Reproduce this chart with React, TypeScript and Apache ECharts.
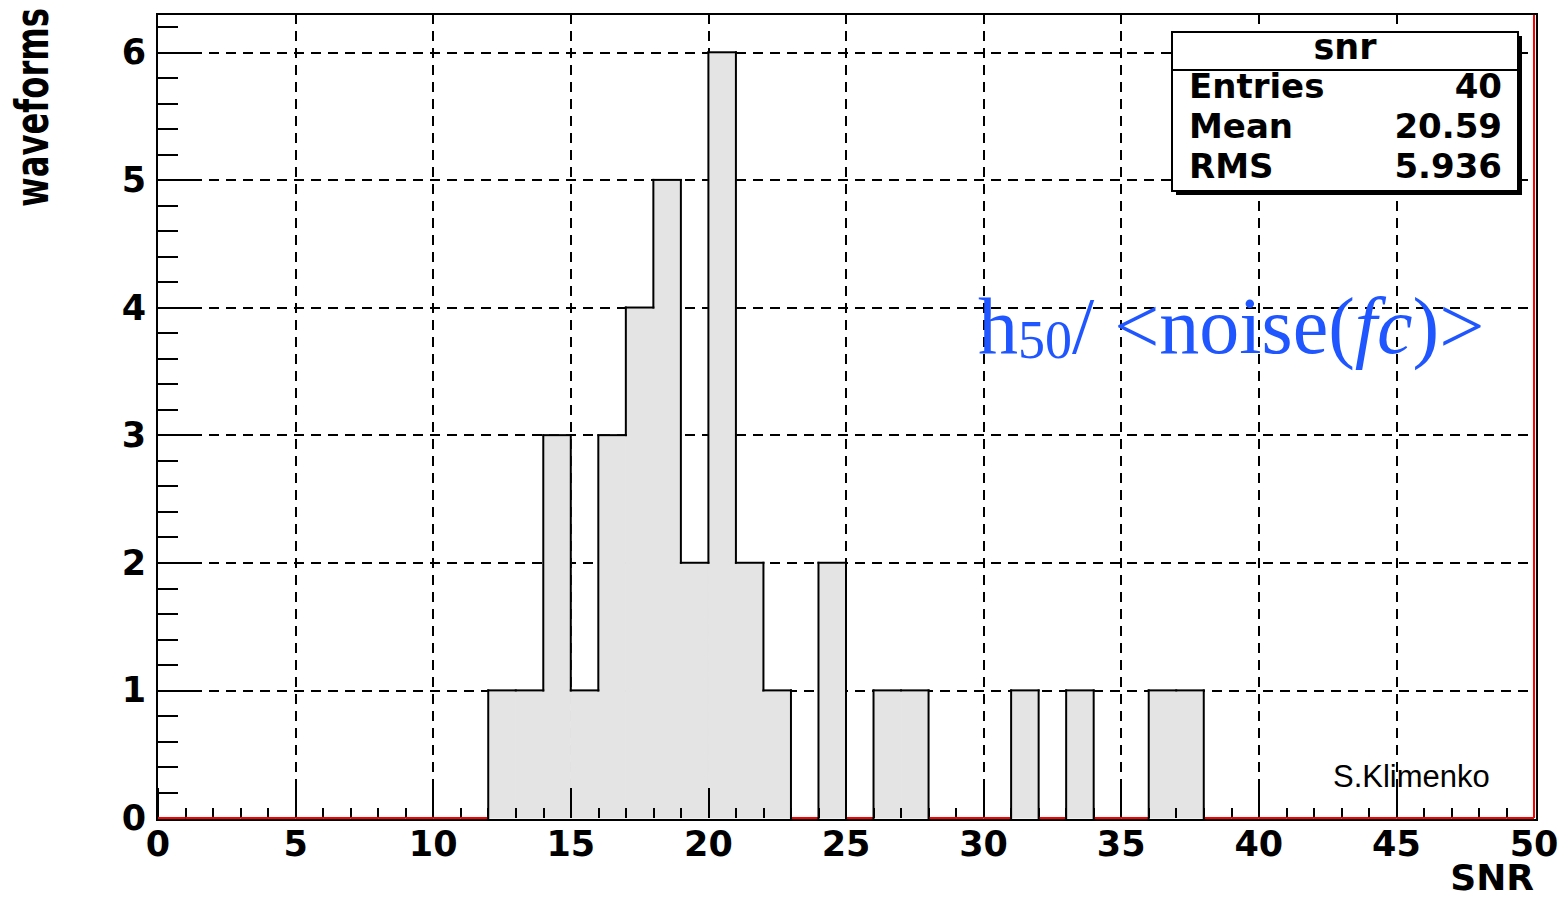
import React, { useEffect, useRef } from 'react';
import * as echarts from 'echarts';

// Histogram of SNR values: lower edge of each filled bin and its count
const snrBinStart = [12, 13, 14, 15, 16, 17, 18, 19, 20, 21, 22, 24, 26, 27, 31, 33, 36, 37];
const waveformCounts = [1, 1, 3, 1, 3, 4, 5, 2, 6, 2, 1, 2, 1, 1, 1, 1, 1, 1];
const binWidth = 1;

// Axis ranges
const snrMin = 0;
const snrMax = 50;
const snrStep = 5;
const countMin = 0;
const countMax = 6.3;
const countStep = 1;

// Statistics box
const statsTitle = 'snr';
const statsNames = ['Entries', 'Mean', 'RMS'];
const statsValues = ['40', '20.59', '5.936'];

// Plot area in pixels
const PLOT = { left: 158, top: 14, width: 1376, height: 804 };

const BOLD_FONT = 'DejaVu Sans';
const FILL = '#e4e4e4';
const RED = '#ff0000';

function buildHistData() {
  const nBins = Math.round((snrMax - snrMin) / binWidth);
  const counts: number[] = new Array(nBins).fill(0);
  snrBinStart.forEach((x, i) => {
    counts[Math.round((x - snrMin) / binWidth)] = waveformCounts[i];
  });
  return counts.map((c, i) => [
    snrMin + i * binWidth,
    c,
    i > 0 ? counts[i - 1] : 0,
    i < nBins - 1 ? counts[i + 1] : 0,
  ]);
}

export default function App() {
  const ref = useRef<HTMLDivElement>(null);

  useEffect(() => {
    if (!ref.current) return;
    const chart = echarts.init(ref.current, null, { renderer: 'svg' });
    const histData = buildHistData();
    const lastIndex = histData.length - 1;

    const tickLine = { color: '#000', width: 2 };
    const gridLine = { color: '#000', width: 2, type: [10, 7] as number[] };
    const labelStyle = {
      color: '#000',
      fontFamily: BOLD_FONT,
      fontWeight: 'bold' as const,
      fontSize: 35,
    };

    const box = { x: 1172, y: 32, w: 346, h: 159 };

    chart.setOption({
      animation: false,
      backgroundColor: '#fff',
      grid: {
        left: PLOT.left,
        top: PLOT.top,
        width: PLOT.width,
        height: PLOT.height,
        containLabel: false,
        outerBoundsMode: 'none',
      },
      xAxis: [
        {
          type: 'value',
          position: 'bottom',
          min: snrMin,
          max: snrMax,
          interval: snrStep,
          z: 0,
          axisLine: { show: false },
          axisTick: { show: false },
          axisLabel: { show: false },
          splitLine: { show: true, showMinLine: false, showMaxLine: false, lineStyle: gridLine },
        },
        {
          type: 'value',
          position: 'bottom',
          min: snrMin,
          max: snrMax,
          interval: snrStep,
          z: 5,
          axisLine: { show: false },
          axisTick: { show: true, inside: true, length: 30, lineStyle: tickLine },
          minorTick: { show: true, splitNumber: 5, length: 10, lineStyle: tickLine },
          axisLabel: { ...labelStyle, margin: 8, showMinLabel: true, showMaxLabel: true },
          splitLine: { show: false },
        },
      ],
      yAxis: [
        {
          type: 'value',
          position: 'left',
          min: countMin,
          max: countMax,
          interval: countStep,
          z: 0,
          axisLine: { show: false },
          axisTick: { show: false },
          axisLabel: { show: false },
          splitLine: { show: true, showMinLine: false, showMaxLine: false, lineStyle: gridLine },
        },
        {
          type: 'value',
          position: 'left',
          min: countMin,
          max: countMax,
          interval: countStep,
          z: 5,
          axisLine: { show: false },
          axisTick: { show: true, inside: true, length: 43, lineStyle: tickLine },
          minorTick: { show: true, splitNumber: 5, length: 20, lineStyle: tickLine },
          axisLabel: {
            ...labelStyle,
            margin: 12,
            formatter: (v: number) => (Math.abs(v - Math.round(v)) < 1e-9 ? String(Math.round(v)) : ''),
          },
          splitLine: { show: false },
        },
      ],
      series: [
        {
          // right boundary in red
          type: 'line',
          xAxisIndex: 0,
          yAxisIndex: 0,
          z: 6,
          silent: true,
          symbol: 'none',
          lineStyle: { color: RED, width: 2 },
          data: [
            [snrMax, countMin],
            [snrMax, countMax],
          ],
        },
        {
          // bin fill
          type: 'custom',
          xAxisIndex: 0,
          yAxisIndex: 0,
          z: 2,
          silent: true,
          data: histData,
          encode: { x: 0, y: 1 },
          renderItem: (params: any, api: any) => {
            const x0 = api.value(0);
            const c = api.value(1);
            if (!(c > 0)) return { type: 'group', children: [] };
            const tl = api.coord([x0, c]);
            const br = api.coord([x0 + binWidth, 0]);
            return {
              type: 'rect',
              shape: { x: tl[0], y: tl[1], width: br[0] - tl[0], height: br[1] - tl[1] },
              style: { fill: FILL, stroke: FILL, lineWidth: 1 },
            };
          },
        },
        {
          // step outline, with the red zero line where a bin is empty
          type: 'custom',
          xAxisIndex: 0,
          yAxisIndex: 0,
          z: 6,
          silent: true,
          data: histData,
          encode: { x: 0, y: 1 },
          renderItem: (params: any, api: any) => {
            const x0 = api.value(0);
            const c = api.value(1);
            const prev = api.value(2);
            const children: any[] = [];
            const black = { stroke: '#000', lineWidth: 2, lineCap: 'square' };
            const seg = (p: number[], q: number[], style: any) => ({
              type: 'line',
              shape: { x1: p[0], y1: p[1], x2: q[0], y2: q[1] },
              style,
            });
            if (c > 0) {
              children.push(seg(api.coord([x0, c]), api.coord([x0 + binWidth, c]), black));
            } else {
              children.push(
                seg(api.coord([x0, 0]), api.coord([x0 + binWidth, 0]), { stroke: RED, lineWidth: 2 })
              );
            }
            if (c !== prev) {
              children.push(seg(api.coord([x0, prev]), api.coord([x0, c]), black));
            }
            if (params.dataIndex === lastIndex && c > 0) {
              children.push(seg(api.coord([x0 + binWidth, c]), api.coord([x0 + binWidth, 0]), black));
            }
            return { type: 'group', children };
          },
        },
      ],
      graphic: [
        {
          // frame
          type: 'rect',
          z: 20,
          silent: true,
          shape: { x: PLOT.left - 1, y: PLOT.top, width: PLOT.width + 4, height: PLOT.height + 2 },
          style: { fill: 'none', stroke: '#000', lineWidth: 2 },
        },
        {
          type: 'text',
          z: 20,
          x: 32,
          y: 8,
          rotation: Math.PI / 2,
          scaleX: 0.7,
          style: {
            text: 'waveforms',
            fill: '#000',
            fontFamily: BOLD_FONT,
            fontWeight: 'bold',
            fontSize: 46,
            align: 'right',
            verticalAlign: 'middle',
          },
        },
        {
          type: 'text',
          z: 20,
          x: 1534,
          y: 877,
          style: {
            text: 'SNR',
            fill: '#000',
            fontFamily: BOLD_FONT,
            fontWeight: 'bold',
            fontSize: 36,
            align: 'right',
            verticalAlign: 'middle',
          },
        },
        {
          type: 'text',
          z: 20,
          x: 1333,
          y: 776,
          style: {
            text: 'S.Klimenko',
            fill: '#000',
            fontFamily: 'Liberation Sans',
            fontSize: 31,
            align: 'left',
            verticalAlign: 'middle',
          },
        },
        {
          type: 'text',
          z: 20,
          x: 978,
          y: 285,
          style: {
            text: '{a|h}{b|50}{a|/ <noise(}{c|fc}{a|)>}',
            fill: '#1f56ff',
            fontFamily: 'Liberation Serif',
            fontSize: 80,
            align: 'left',
            verticalAlign: 'top',
            rich: {
              a: { fill: '#1f56ff', fontFamily: 'Liberation Serif', fontSize: 80, lineHeight: 82 },
              b: {
                fill: '#1f56ff',
                fontFamily: 'Liberation Serif',
                fontSize: 54,
                lineHeight: 16,
                verticalAlign: 'bottom',
              },
              c: {
                fill: '#1f56ff',
                fontFamily: 'Liberation Serif',
                fontStyle: 'italic',
                fontSize: 80,
                lineHeight: 82,
              },
            },
          },
        },
        {
          type: 'group',
          z: 30,
          children: [
            {
              type: 'rect',
              z: 30,
              shape: { x: box.x + 4, y: box.y + 4, width: box.w, height: box.h },
              style: { fill: '#000' },
            },
            {
              type: 'rect',
              z: 31,
              shape: { x: box.x, y: box.y, width: box.w, height: box.h },
              style: { fill: '#fff', stroke: '#000', lineWidth: 2 },
            },
            {
              type: 'line',
              z: 32,
              shape: { x1: box.x, y1: 70, x2: box.x + box.w, y2: 70 },
              style: { stroke: '#000', lineWidth: 2 },
            },
            {
              type: 'text',
              z: 32,
              x: box.x + box.w / 2,
              y: 47,
              style: {
                text: statsTitle,
                fill: '#000',
                fontFamily: BOLD_FONT,
                fontWeight: 'bold',
                fontSize: 35,
                align: 'center',
                verticalAlign: 'middle',
              },
            },
            ...statsNames.map((name, i) => ({
              type: 'text',
              z: 32,
              x: 1189,
              y: 86 + i * 40,
              style: {
                text: name,
                fill: '#000',
                fontFamily: BOLD_FONT,
                fontWeight: 'bold',
                fontSize: 34,
                align: 'left',
                verticalAlign: 'middle',
              },
            })),
            ...statsValues.map((val, i) => ({
              type: 'text',
              z: 32,
              x: 1502,
              y: 86 + i * 40,
              style: {
                text: val,
                fill: '#000',
                fontFamily: BOLD_FONT,
                fontWeight: 'bold',
                fontSize: 34,
                align: 'right',
                verticalAlign: 'middle',
              },
            })),
          ],
        },
      ],
    });

    return () => chart.dispose();
  }, []);

  return (
    <div
      ref={ref}
      style={{ position: 'fixed', left: 0, top: 0, width: 1562, height: 898, background: '#fff' }}
    />
  );
}
